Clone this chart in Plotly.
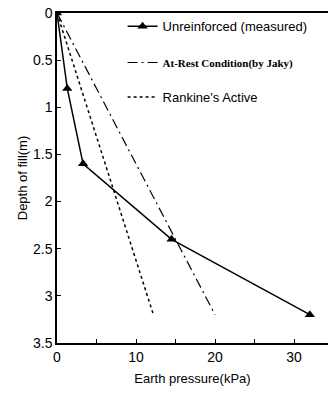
import plotly.graph_objects as go

# Data
measured_x = [0, 1.3, 3.3, 14.5, 32.0]
measured_y = [0, 0.8, 1.6, 2.4, 3.2]
jaky_x = [0, 20.0]
jaky_y = [0, 3.2]
rankine_x = [0, 12.2]
rankine_y = [0, 3.2]
x_ticks = [0, 10, 20, 30]
y_ticks = [0, 0.5, 1, 1.5, 2, 2.5, 3, 3.5]
y_tick_text = ["0", "0.5", "1", "1.5", "2", "2.5", "3", "3.5"]

fig = go.Figure()
fig.add_trace(go.Scatter(x=measured_x, y=measured_y, mode="lines+markers",
                         name="Unreinforced (measured)", showlegend=True,
                         line=dict(color="black", width=1.5),
                         marker=dict(symbol="triangle-up", size=9, color="black"),
                         legend="legend"))
fig.add_trace(go.Scatter(x=jaky_x, y=jaky_y, mode="lines",
                         name="<b>At-Rest Condition(by Jaky)</b>", showlegend=True,
                         line=dict(color="black", width=1.2, dash="10px,4px,2px,4px"),
                         legend="legend2"))
fig.add_trace(go.Scatter(x=rankine_x, y=rankine_y, mode="lines",
                         name="Rankine's Active", showlegend=True,
                         line=dict(color="black", width=1.5, dash="3px,3px"),
                         legend="legend3"))

sans = "Liberation Sans, Arial, sans-serif"
serif = "Liberation Serif, Times New Roman, serif"

leg_common = dict(bgcolor="rgba(0,0,0,0)", borderwidth=0, xanchor="left", yanchor="middle",
                  itemwidth=30, tracegroupgap=0, visible=True)
fig.update_layout(
    width=328, height=394,
    showlegend=True,
    margin=dict(l=57, r=0, t=13, b=51),
    paper_bgcolor="white", plot_bgcolor="white",
    font=dict(family=sans, color="black", size=13),
    legend=dict(**leg_common, x=0.242, y=0.96, font=dict(family=sans, size=13)),
    legend2=dict(**leg_common, x=0.242, y=0.85, font=dict(family=serif, size=11)),
    legend3=dict(**leg_common, x=0.242, y=0.745, font=dict(family=sans, size=13)),
    xaxis=dict(range=[0, 34.3], tickvals=x_ticks, ticks="inside", ticklen=4,
               tickcolor="black", showline=True, linecolor="black", linewidth=1.5,
               mirror=True, showgrid=False, zeroline=False,
               minor=dict(dtick=5, ticks="inside", ticklen=4, tickcolor="black"),
               tickfont=dict(size=14),
               title=dict(text="Earth pressure(kPa)", font=dict(size=13), standoff=10)),
    yaxis=dict(range=[3.5, 0], tickvals=y_ticks, ticktext=y_tick_text, ticks="inside",
               ticklen=4, tickcolor="black", showline=True, linecolor="black", linewidth=1.5,
               showgrid=False, zeroline=False, tickfont=dict(size=14),
               title=dict(text="Depth of fill(m)", font=dict(size=13), standoff=2)),
)

fig.write_html("out.html")
